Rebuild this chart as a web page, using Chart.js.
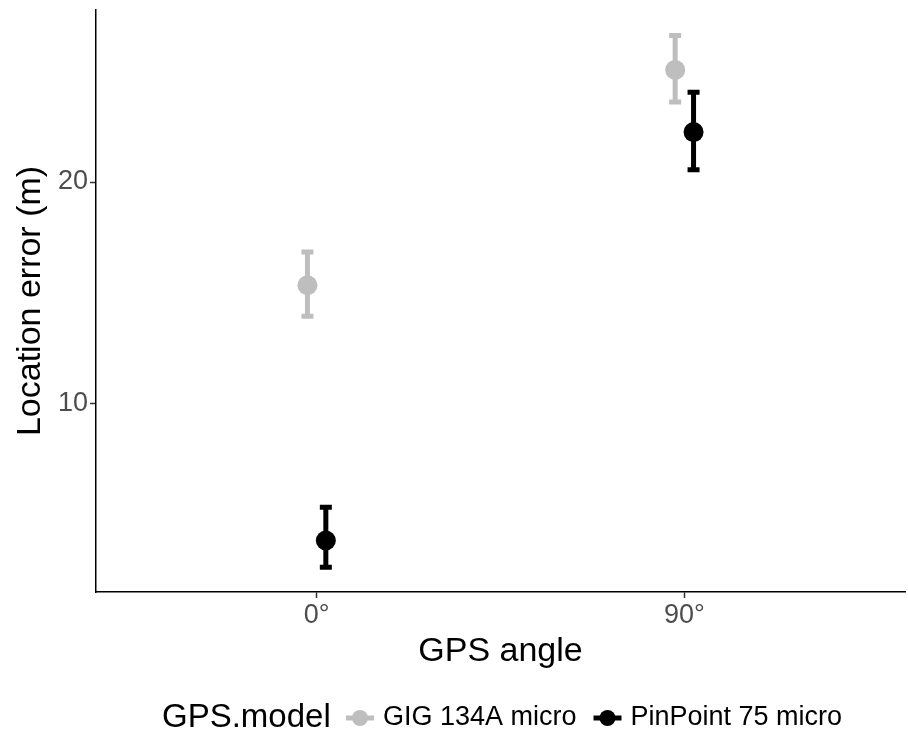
<!DOCTYPE html>
<html>
<head>
<meta charset="utf-8">
<script src="https://cdn.jsdelivr.net/npm/chart.js@4"></script>
<style>
  html, body { margin: 0; padding: 0; background: #fff; overflow: hidden; }
  #wrap { width: 908px; height: 736px; }
</style>
</head>
<body>
<div id="wrap"><canvas id="gps"></canvas></div>
<script>
const angles = ["0°", "90°"];
const models = ["GIG 134A micro", "PinPoint 75 micro"];
const colors = ["#bebebe", "#000000"];
// mean location error and interval for each model, per angle
const gigMean = [15.35, 25.05];
const gigLow = [13.95, 23.6];
const gigHigh = [16.85, 26.6];
const pinMean = [3.85, 22.25];
const pinLow = [2.65, 20.55];
const pinHigh = [5.35, 24.05];
const yTicks = [10, 20];

const dodge = 0.025;
const FONT = "'Liberation Sans', Arial, sans-serif";

function series(mean, low, high, shift) {
  return mean.map((m, i) => ({ x: i + 1 + shift, y: m, lo: low[i], hi: high[i] }));
}

function noPad(s) {
  s.paddingTop = 0; s.paddingBottom = 0; s.paddingLeft = 0; s.paddingRight = 0;
}

const errorBars = {
  id: "errorBars",
  beforeDatasetsDraw(chart) {
    const ctx = chart.ctx;
    const y = chart.scales.y;
    chart.data.datasets.forEach((ds, di) => {
      const meta = chart.getDatasetMeta(di);
      ctx.save();
      ctx.strokeStyle = ds.borderColor;
      ctx.lineWidth = 5;
      meta.data.forEach((pt, i) => {
        const d = ds.data[i];
        const top = y.getPixelForValue(d.hi), bot = y.getPixelForValue(d.lo);
        ctx.beginPath();
        ctx.moveTo(pt.x, top); ctx.lineTo(pt.x, bot);
        ctx.moveTo(pt.x - 6, top); ctx.lineTo(pt.x + 6, top);
        ctx.moveTo(pt.x - 6, bot); ctx.lineTo(pt.x + 6, bot);
        ctx.stroke();
      });
      ctx.restore();
    });
  }
};

const legendBox = {
  id: "legendBox",
  afterDraw(chart) {
    const ctx = chart.ctx;
    const cy = 718;
    ctx.save();
    ctx.textBaseline = "middle";
    ctx.fillStyle = "#000";
    ctx.font = "33px " + FONT;
    ctx.fillText("GPS.model", 162, cy);
    const keyX = [360, 607.5];
    models.forEach((name, i) => {
      ctx.strokeStyle = colors[i];
      ctx.fillStyle = colors[i];
      ctx.lineWidth = 5;
      ctx.beginPath();
      ctx.moveTo(keyX[i] - 14, cy); ctx.lineTo(keyX[i] + 14, cy);
      ctx.stroke();
      ctx.beginPath();
      ctx.arc(keyX[i], cy, 8, 0, Math.PI * 2);
      ctx.fill();
      ctx.fillStyle = "#000";
      ctx.font = "27px " + FONT;
      ctx.fillText(name, keyX[i] + 23, cy);
    });
    ctx.restore();
  }
};

new Chart(document.getElementById("gps"), {
  type: "scatter",
  data: {
    datasets: [
      {
        label: models[0],
        data: series(gigMean, gigLow, gigHigh, -dodge),
        backgroundColor: colors[0],
        borderColor: colors[0],
        pointRadius: 10,
        pointBorderWidth: 0,
      },
      {
        label: models[1],
        data: series(pinMean, pinLow, pinHigh, dodge),
        backgroundColor: colors[1],
        borderColor: colors[1],
        pointRadius: 10,
        pointBorderWidth: 0,
      },
    ],
  },
  options: {
    responsive: true,
    maintainAspectRatio: false,
    animation: false,
    layout: { autoPadding: false, padding: { top: 10, right: 3, left: 0, bottom: 60 } },
    plugins: {
      legend: { display: false },
      tooltip: { enabled: false },
    },
    scales: {
      x: {
        type: "linear",
        min: 0.4,
        max: 2.6,
        afterBuildTicks: (s) => { s.ticks = angles.map((a, i) => ({ value: i + 1 })); },
        afterFit: (s) => { s.height = 84; noPad(s); },
        ticks: {
          callback: (v) => angles[v - 1],
          color: "#4d4d4d",
          font: { family: FONT, size: 27 },
          padding: 1,
        },
        grid: { drawOnChartArea: false, drawTicks: true, tickLength: 6, color: "#333", tickWidth: 1.5 },
        border: { display: true, color: "#000", width: 1.5 },
        title: {
          display: true,
          text: "GPS angle",
          color: "#000",
          font: { family: FONT, size: 34 },
          padding: { top: 0, bottom: 4 },
        },
      },
      y: {
        min: 1.53,
        max: 27.75,
        afterBuildTicks: (s) => { s.ticks = yTicks.map((v) => ({ value: v })); },
        afterFit: (s) => { s.width = 96; noPad(s); },
        ticks: {
          color: "#4d4d4d",
          font: { family: FONT, size: 27 },
          padding: 2,
        },
        grid: { drawOnChartArea: false, drawTicks: true, tickLength: 6, color: "#333", tickWidth: 1.5 },
        border: { display: true, color: "#000", width: 1.5 },
        title: {
          display: true,
          text: "Location error (m)",
          color: "#000",
          font: { family: FONT, size: 34 },
          padding: { top: 10, bottom: 0 },
        },
      },
    },
  },
  plugins: [errorBars, legendBox],
});
</script>
</body>
</html>
